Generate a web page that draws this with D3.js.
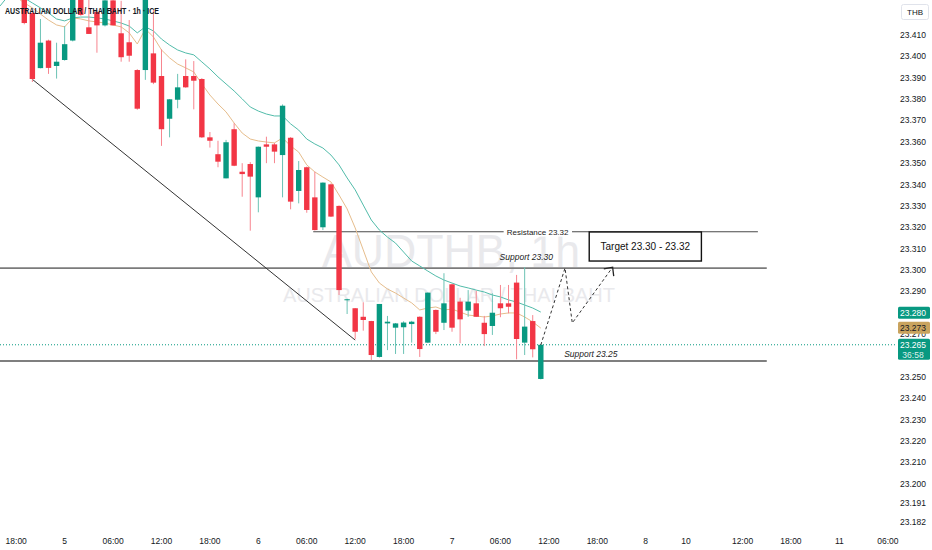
<!DOCTYPE html>
<html>
<head>
<meta charset="utf-8">
<script src="https://cdn.jsdelivr.net/npm/d3@7"></script>
<style>
  body { margin: 0; background: #fff; }
  svg { display: block; font-family: "Liberation Sans Narrow", "Liberation Sans", Arial, sans-serif; }
</style>
</head>
<body>
<div id="chart"></div>
<script>
// hourly candles, index 0 = 19:00 on the 4th
const open  = [23.4320, 23.4203, 23.3945, 23.4074, 23.3955, 23.3983, 23.4074, 23.4278, 23.4136, 23.4208,
               23.4145, 23.4262, 23.4108, 23.4066, 23.3936, 23.3936, 23.4014, 23.3908, 23.3708, 23.3797,
               23.3908, 23.3908, 23.3894, 23.3621, 23.3542, 23.3429, 23.3659, 23.3460, 23.3496, 23.3340,
               23.3588, 23.3588, 23.3538, 23.3619, 23.3370, 23.3481, 23.3340, 23.3200, 23.3401, 23.3300,
               23.2860, 23.2821, 23.2781, 23.2761, 23.2593, 23.2750, 23.2730, 23.2732, 23.2747, 23.2781,
               23.2660, 23.2813, 23.2753, 23.2933, 23.2852, 23.2810, 23.2844, 23.2753, 23.2738, 23.2844,
               23.2844, 23.2941, 23.2660, 23.2761, 23.2490];
const high  = [23.4330, 23.4217, 23.4175, 23.4078, 23.4064, 23.4142, 23.4300, 23.4300, 23.4270, 23.4217,
               23.4280, 23.4280, 23.4260, 23.4170, 23.3940, 23.4300, 23.4217, 23.4033, 23.3800, 23.3918,
               23.3986, 23.3978, 23.3898, 23.3646, 23.3605, 23.3609, 23.3687, 23.3500, 23.3505, 23.3578,
               23.3624, 23.3595, 23.3775, 23.3622, 23.3510, 23.3484, 23.3460, 23.3410, 23.3405, 23.3302,
               23.2865, 23.2822, 23.2849, 23.2762, 23.2841, 23.2785, 23.2752, 23.2760, 23.2762, 23.2783,
               23.2895, 23.2815, 23.2985, 23.2935, 23.2870, 23.2906, 23.2903, 23.2785, 23.2891, 23.2930,
               23.2930, 23.2977, 23.3013, 23.2789, 23.2650];
const low   = [23.4150, 23.3880, 23.3944, 23.3918, 23.3896, 23.3980, 23.4070, 23.4190, 23.4105, 23.4017,
               23.4140, 23.4145, 23.3975, 23.3975, 23.3750, 23.3890, 23.3870, 23.3581, 23.3621, 23.3757,
               23.3853, 23.3752, 23.3618, 23.3573, 23.3481, 23.3429, 23.3486, 23.3343, 23.3184, 23.3270,
               23.3500, 23.3500, 23.3340, 23.3284, 23.3312, 23.3268, 23.3185, 23.3187, 23.3248, 23.2883,
               23.2794, 23.2676, 23.2716, 23.2579, 23.2590, 23.2625, 23.2607, 23.2607, 23.2660, 23.2593,
               23.2658, 23.2700, 23.2719, 23.2711, 23.2657, 23.2781, 23.2780, 23.2644, 23.2696, 23.2779,
               23.2797, 23.2582, 23.2602, 23.2591, 23.2488];
const close = [23.4156, 23.3894, 23.4064, 23.3946, 23.3975, 23.4057, 23.4274, 23.4194, 23.4105, 23.4145,
               23.4262, 23.4145, 23.3996, 23.4003, 23.3755, 23.4280, 23.3877, 23.3659, 23.3799, 23.3855,
               23.3855, 23.3886, 23.3621, 23.3605, 23.3507, 23.3598, 23.3488, 23.3449, 23.3437, 23.3577,
               23.3577, 23.3554, 23.3769, 23.3320, 23.3468, 23.3281, 23.3187, 23.3409, 23.3250, 23.2906,
               23.2863, 23.2711, 23.2766, 23.2602, 23.2841, 23.2758, 23.2750, 23.2754, 23.2758, 23.2630,
               23.2894, 23.2711, 23.2844, 23.2730, 23.2769, 23.2852, 23.2781, 23.2700, 23.2800, 23.2821,
               23.2828, 23.2677, 23.2735, 23.2629, 23.2650];

// moving averages, first value is at candle index -3
const maStart = -3;
const maSlow = [23.4236, 23.4283, 23.4292,
                23.4273, 23.4250, 23.4227, 23.4203, 23.4175, 23.4166, 23.4180, 23.4184, 23.4184, 23.4180,
                23.4175, 23.4166, 23.4156, 23.4142, 23.4110, 23.4138, 23.4119, 23.4081, 23.4053, 23.4030,
                23.4016, 23.4007, 23.3974, 23.3941, 23.3904, 23.3871, 23.3838, 23.3801, 23.3763, 23.3744,
                23.3730, 23.3721, 23.3721, 23.3684, 23.3655, 23.3613, 23.3590, 23.3571, 23.3538, 23.3492,
                23.3431, 23.3375, 23.3304, 23.3234, 23.3187, 23.3154, 23.3126, 23.3084, 23.3042, 23.3019,
                23.2995, 23.2972, 23.2953, 23.2939, 23.2925, 23.2916, 23.2906, 23.2897, 23.2883, 23.2874,
                23.2860, 23.2850, 23.2836, 23.2822, 23.2803];
const maFast = [null, null, 23.4278,
                23.4250, 23.4227, 23.4198, 23.4170, 23.4147, 23.4138, 23.4180, 23.4175, 23.4166, 23.4161,
                23.4156, 23.4147, 23.4138, 23.4110, 23.4058, 23.4128, 23.4091, 23.4030, 23.3993, 23.3964,
                23.3946, 23.3927, 23.3871, 23.3819, 23.3777, 23.3740, 23.3688, 23.3641, 23.3613, 23.3604,
                23.3599, 23.3595, 23.3618, 23.3581, 23.3552, 23.3492, 23.3459, 23.3435, 23.3412, 23.3351,
                23.3286, 23.3197, 23.3094, 23.2991, 23.2939, 23.2911, 23.2892, 23.2869, 23.2846, 23.2813,
                23.2822, 23.2827, 23.2813, 23.2817, 23.2803, 23.2789, 23.2785, 23.2780, 23.2785, 23.2794,
                23.2799, 23.2799, 23.2780, 23.2757, 23.2728];

// 23.260 sits under the last-price tag, so it is left out
const priceTicks = [23.41, 23.40, 23.39, 23.38, 23.37, 23.36, 23.35, 23.34, 23.33, 23.32, 23.31, 23.30,
                    23.29, 23.28, 23.27, 23.25, 23.24, 23.23, 23.22, 23.21, 23.20, 23.191, 23.182];
const timeTickIdx = [-1, 5, 11, 17, 23, 29, 35, 41, 47, 53, 59, 65, 71, 77, 82, 89, 95, 101, 107];
const timeTickLabels = ["18:00", "5", "06:00", "12:00", "18:00", "6", "06:00", "12:00", "18:00", "7",
                        "06:00", "12:00", "18:00", "8", "10", "12:00", "18:00", "11", "06:00"];

// drawings: horizontal levels
const levelNames  = ["Resistance 23.32", "Support 23.30", "Support 23.25"];
const levelPrices = [23.3179, 23.3009, 23.2574];
const levelFrom   = [35.8, -3.1, -3.1];
const levelTo     = [90.9, 92.0, 92.0];
const levelLabelAt = [63.6, 62.2, 70.2];

const trendIdx = [0.95, 41.0];
const trendPx  = [23.3894, 23.2672];
const pathIdx  = [64.0, 67.0, 67.9, 72.9];
const pathPx   = [23.2649, 23.3009, 23.2752, 23.3013];
const targetIdx = [70.0, 83.9];
const targetPx  = [23.3178, 23.3042];
const targetText = "Target 23.30 - 23.32";

const lastSlow = 23.280, lastFast = 23.273, lastPrice = 23.265, countdown = "36:58";

const W = 932, H = 550, plotW = 895, plotH = 530;
const up = "#089981", down = "#f23645";

const x = d3.scaleLinear().domain([0, 64]).range([24.3, 540.8]);
const y = d3.scaleLinear().domain([23.30, 23.41]).range([270, 35]);

const svg = d3.select("#chart").append("svg").attr("width", W).attr("height", H);

svg.append("defs").append("clipPath").attr("id", "plot")
  .append("rect").attr("x", 0).attr("y", 0).attr("width", plotW).attr("height", plotH);

const plot = svg.append("g").attr("clip-path", "url(#plot)");

// watermark
const wm = plot.append("g").attr("fill", "#e9e9ec").attr("text-anchor", "middle");
wm.append("text").attr("x", 451).attr("y", 267).attr("font-size", 47)
  .attr("textLength", 258).attr("lengthAdjust", "spacingAndGlyphs")
  .style("font-family", "'Liberation Sans', Arial, sans-serif")
  .text("AUDTHB, 1h");
wm.append("text").attr("x", 449).attr("y", 302).attr("font-size", 21)
  .attr("textLength", 332).attr("lengthAdjust", "spacingAndGlyphs")
  .style("font-family", "'Liberation Sans', Arial, sans-serif")
  .text("AUSTRALIAN DOLLAR / THAI BAHT");

// current price dotted line
plot.append("line")
  .attr("x1", 0).attr("x2", plotW)
  .attr("y1", y(lastPrice)).attr("y2", y(lastPrice))
  .attr("stroke", up).attr("stroke-width", 1).attr("stroke-dasharray", "1,2");

// levels
const lineStyle = [{c: "#4a4a4a", w: 1}, {c: "#7b7b7b", w: 1.6}, {c: "#555", w: 1.3}];
levelPrices.forEach((p, i) => {
  plot.append("line")
    .attr("x1", x(levelFrom[i])).attr("x2", x(levelTo[i]))
    .attr("y1", y(p)).attr("y2", y(p))
    .attr("stroke", lineStyle[i].c).attr("stroke-width", lineStyle[i].w);
});

// resistance label sits on the line
const res = plot.append("g");
const resT = res.append("text")
  .attr("x", x(levelLabelAt[0])).attr("y", y(levelPrices[0]) + 2.8)
  .attr("text-anchor", "middle").attr("font-size", 8).attr("fill", "#222")
  .text(levelNames[0]);
const bb = resT.node().getBBox();
res.insert("rect", "text").attr("x", bb.x - 3).attr("y", bb.y).attr("width", bb.width + 6)
  .attr("height", bb.height).attr("fill", "#fff");

plot.append("text")
  .attr("x", x(levelLabelAt[1])).attr("y", y(levelPrices[1]) - 8)
  .attr("text-anchor", "middle").attr("font-size", 8.5).attr("font-style", "italic")
  .attr("fill", "#222").text(levelNames[1]);
plot.append("text")
  .attr("x", x(levelLabelAt[2])).attr("y", y(levelPrices[2]) - 4)
  .attr("text-anchor", "middle").attr("font-size", 8.5).attr("font-style", "italic")
  .attr("fill", "#222").text(levelNames[2]);

// trend line
plot.append("line")
  .attr("x1", x(trendIdx[0])).attr("y1", y(trendPx[0]))
  .attr("x2", x(trendIdx[1])).attr("y2", y(trendPx[1]))
  .attr("stroke", "#333").attr("stroke-width", 1);

// moving averages
const maLine = d3.line()
  .defined(d => d != null)
  .x((d, i) => x(i + maStart))
  .y(d => y(d));
plot.append("path").datum(maSlow).attr("d", maLine)
  .attr("fill", "none").attr("stroke", "#52bcaa").attr("stroke-width", 1);
plot.append("path").datum(maFast).attr("d", maLine)
  .attr("fill", "none").attr("stroke", "#e6bd8c").attr("stroke-width", 1);

// candles
const bodyW = 5.4;
const candles = plot.selectAll(".candle")
  .data(open.map((o, i) => ({i, o, h: high[i], l: low[i], c: close[i]})))
  .enter().append("g").attr("class", "candle");

candles.append("line")
  .attr("x1", d => x(d.i)).attr("x2", d => x(d.i))
  .attr("y1", d => y(d.h)).attr("y2", d => y(d.l))
  .attr("stroke", d => d.c >= d.o ? "#6cc3b5" : "#f7858f")
  .attr("stroke-width", 1);

candles.append("rect")
  .attr("x", d => x(d.i) - bodyW / 2)
  .attr("width", bodyW)
  .attr("y", d => y(Math.max(d.o, d.c)))
  .attr("height", d => Math.max(1, Math.abs(y(d.o) - y(d.c))))
  .attr("fill", d => d.c >= d.o ? up : down);

// projected path
const pathLine = d3.line().x((d, i) => x(pathIdx[i])).y(d => y(d));
plot.append("path").datum(pathPx).attr("d", pathLine)
  .attr("fill", "none").attr("stroke", "#333").attr("stroke-width", 1)
  .attr("stroke-dasharray", "3,2.5");

const n = pathPx.length;
const tx = x(pathIdx[n - 1]), ty = y(pathPx[n - 1]);
const ang = Math.atan2(ty - y(pathPx[n - 2]), tx - x(pathIdx[n - 2]));
const headLen = 9, spread = Math.PI / 4.2;
plot.append("path")
  .attr("d", `M${tx + headLen * Math.cos(ang + Math.PI - spread)},${ty + headLen * Math.sin(ang + Math.PI - spread)}` +
             `L${tx},${ty}` +
             `L${tx + headLen * Math.cos(ang + Math.PI + spread)},${ty + headLen * Math.sin(ang + Math.PI + spread)}`)
  .attr("fill", "none").attr("stroke", "#222").attr("stroke-width", 1.3);

// target box
plot.append("rect")
  .attr("x", x(targetIdx[0])).attr("y", y(targetPx[0]))
  .attr("width", x(targetIdx[1]) - x(targetIdx[0]))
  .attr("height", y(targetPx[1]) - y(targetPx[0]))
  .attr("fill", "#fff").attr("stroke", "#111").attr("stroke-width", 1.4);
plot.append("text")
  .attr("x", (x(targetIdx[0]) + x(targetIdx[1])) / 2)
  .attr("y", (y(targetPx[0]) + y(targetPx[1])) / 2 + 3.5)
  .attr("text-anchor", "middle").attr("font-size", 10).attr("fill", "#111")
  .style("font-family", "'Liberation Sans', Arial, sans-serif")
  .text(targetText);

// title legend
svg.append("text").attr("x", 5).attr("y", 14)
  .attr("font-size", 9.5).attr("font-weight", 600).attr("fill", "#131722")
  .attr("textLength", 154).attr("lengthAdjust", "spacingAndGlyphs")
  .style("font-family", "'Liberation Sans', Arial, sans-serif")
  .text("AUSTRALIAN DOLLAR / THAI BAHT · 1h · ICE");

// price axis
const axisX = 913;
svg.append("g").selectAll("text").data(priceTicks).enter().append("text")
  .attr("x", axisX).attr("y", d => y(d) + 3)
  .attr("text-anchor", "middle").attr("font-size", 8.5).attr("fill", "#131722")
  .text(d => d.toFixed(3));

// currency box
svg.append("rect").attr("x", 901.5).attr("y", 4.5).attr("width", 27).attr("height", 15)
  .attr("rx", 2).attr("fill", "#fff").attr("stroke", "#e0e3eb");
svg.append("text").attr("x", 915).attr("y", 15).attr("text-anchor", "middle")
  .attr("font-size", 8).attr("fill", "#131722").text("THB");

// last value tags
function tag(val, fill, txt, extra) {
  const yy = y(val);
  const h = extra ? 21 : 12;
  svg.append("rect").attr("x", 898).attr("y", yy - 6).attr("width", 32).attr("height", h)
    .attr("rx", 1.5).attr("fill", fill);
  svg.append("text").attr("x", axisX).attr("y", yy + 3).attr("text-anchor", "middle")
    .attr("font-size", 8.5).attr("fill", txt).text(val.toFixed(3));
  if (extra) {
    svg.append("text").attr("x", axisX).attr("y", yy + 13).attr("text-anchor", "middle")
      .attr("font-size", 8.5).attr("fill", txt).attr("opacity", 0.85).text(extra);
  }
}
tag(lastSlow, up, "#fff");
tag(lastFast, "#c9a35e", "#131722");
tag(lastPrice, up, "#fff", countdown);

// time axis
svg.append("g").selectAll("text").data(timeTickIdx).enter().append("text")
  .attr("x", d => x(d)).attr("y", 544)
  .attr("text-anchor", "middle").attr("font-size", 8.5).attr("fill", "#131722")
  .text((d, i) => timeTickLabels[i]);
</script>
</body>
</html>
